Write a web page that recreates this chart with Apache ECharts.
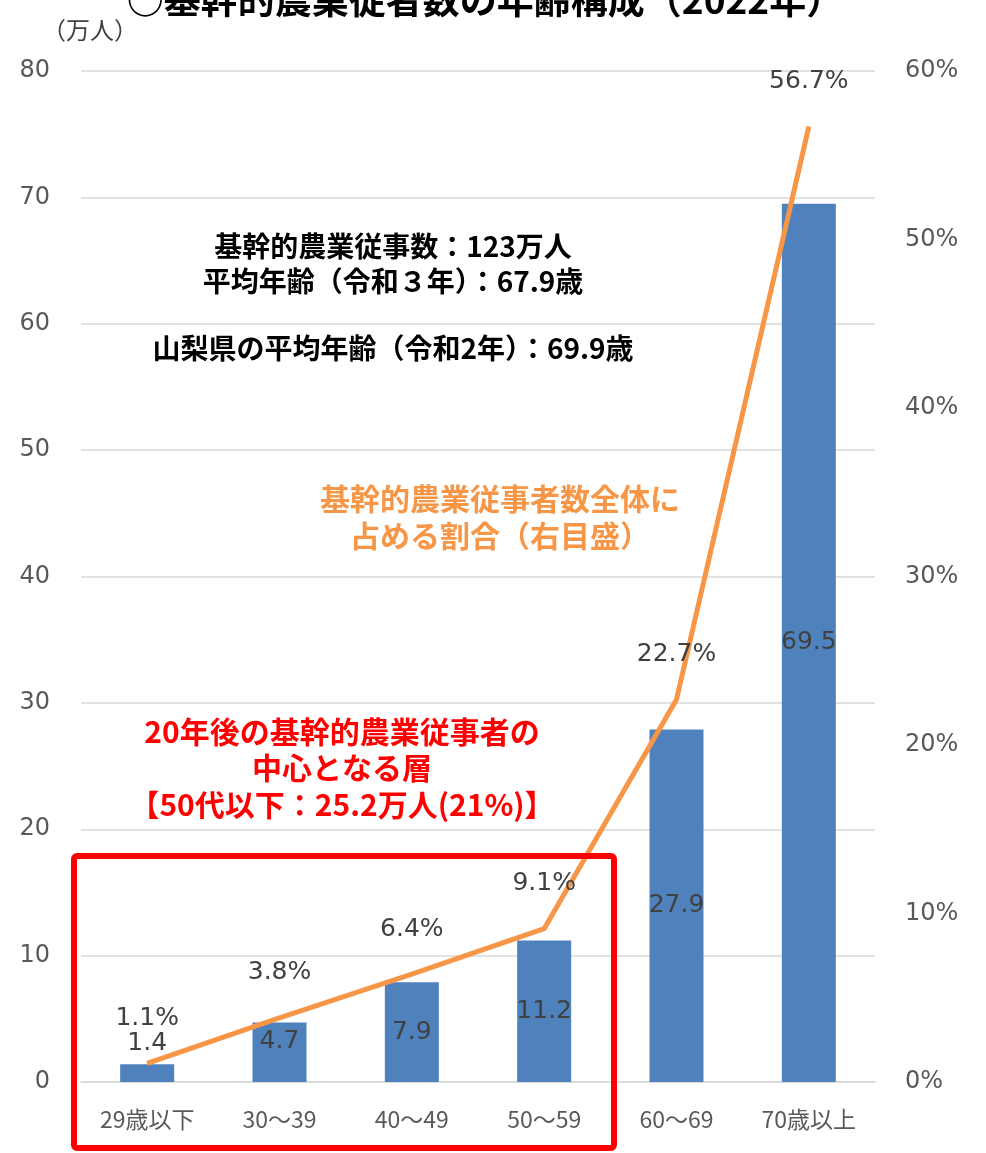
<!DOCTYPE html>
<html>
<head>
<meta charset="utf-8">
<script src="https://cdn.jsdelivr.net/npm/echarts@6/dist/echarts.min.js"></script>
<style>
html,body{margin:0;padding:0;background:#fff;}
#chart{width:986px;height:1153px;}
</style>
</head>
<body>
<div id="chart"></div>
<script>
const categories = ['29歳以下', '30～39', '40～49', '50～59', '60～69', '70歳以上'];
const workers = [1.4, 4.7, 7.9, 11.2, 27.9, 69.5];      // 万人 (left axis)
const shares = [1.1, 3.8, 6.4, 9.1, 22.7, 56.7];        // % (right axis)
const leftTicks = { min: 0, max: 80, interval: 10 };
const rightTicks = { min: 0, max: 60, interval: 10 };

const chart = echarts.init(document.getElementById('chart'));
const numFont = 'DejaVu Sans, Verdana, sans-serif';
const jpFont = '"Noto Sans CJK JP", sans-serif';

const barData = workers.map((v, i) => {
  const item = { value: v };
  if (i === 0) item.label = { position: 'top', distance: 8 };
  if (i === 1) item.label = { offset: [0, -11] };
  return item;
});

chart.setOption({
  animation: false,
  backgroundColor: '#ffffff',
  grid: { left: 81, right: 111, top: 71, bottom: 71, containLabel: false },
  xAxis: {
    type: 'category',
    data: categories,
    axisTick: { show: false },
    axisLine: { show: true, lineStyle: { color: '#d9d9d9', width: 1.5 } },
    axisLabel: { color: '#595959', fontSize: 23, fontFamily: jpFont, margin: 26 }
  },
  yAxis: [
    {
      type: 'value', min: leftTicks.min, max: leftTicks.max, interval: leftTicks.interval,
      axisLine: { show: false }, axisTick: { show: false },
      splitLine: { lineStyle: { color: '#d9d9d9', width: 1.5 } },
      axisLabel: { color: '#595959', fontSize: 24, fontFamily: numFont, margin: 31 }
    },
    {
      type: 'value', min: rightTicks.min, max: rightTicks.max, interval: rightTicks.interval,
      position: 'right',
      axisLine: { show: false }, axisTick: { show: false }, splitLine: { show: false },
      axisLabel: { color: '#595959', fontSize: 24, fontFamily: numFont, margin: 30, formatter: '{value}%' }
    }
  ],
  series: [
    {
      type: 'bar',
      data: barData,
      barWidth: 54,
      itemStyle: { color: '#4F81BD' },
      label: { show: true, position: 'inside', color: '#404040', fontSize: 25, fontFamily: numFont },
      z: 2
    },
    {
      type: 'line',
      yAxisIndex: 1,
      data: shares,
      symbol: 'circle', symbolSize: 1,
      lineStyle: { color: '#F79646', width: 5 },
      itemStyle: { color: '#F79646' },
      label: { show: true, position: 'top', distance: 32, color: '#404040', fontSize: 25, fontFamily: numFont, formatter: '{c}%' },
      z: 5
    }
  ],
  graphic: [
    { type: 'text', x: 485, y: 0, style: { text: '○基幹的農業従者数の年齢構成（2022年）', font: 'bold 37px "Noto Sans CJK JP"', fill: '#000', align: 'center', verticalAlign: 'middle' } },
    { type: 'text', x: 42, y: 30, style: { text: '（万人）', font: '24px "Noto Sans CJK JP"', fill: '#404040', verticalAlign: 'middle' } },
    { type: 'text', x: 393, y: 246, style: { text: '基幹的農業従事数：123万人', font: 'bold 28px "Noto Sans CJK JP"', fill: '#000', align: 'center', verticalAlign: 'middle' } },
    { type: 'text', x: 393, y: 281, style: { text: '平均年齢（令和３年）：67.9歳', font: 'bold 28px "Noto Sans CJK JP"', fill: '#000', align: 'center', verticalAlign: 'middle' } },
    { type: 'text', x: 393, y: 348, style: { text: '山梨県の平均年齢（令和2年）：69.9歳', font: 'bold 28px "Noto Sans CJK JP"', fill: '#000', align: 'center', verticalAlign: 'middle' } },
    { type: 'text', x: 500, y: 517, style: { text: '基幹的農業従事者数全体に\n占める割合（右目盛）', font: 'bold 30px "Noto Sans CJK JP"', lineHeight: 37, fill: '#F79646', align: 'center', verticalAlign: 'middle' } },
    { type: 'text', x: 342, y: 768, style: { text: '20年後の基幹的農業従事者の\n中心となる層\n【50代以下：25.2万人(21%)】', font: 'bold 30px "Noto Sans CJK JP"', lineHeight: 36.5, fill: '#FF0000', align: 'center', verticalAlign: 'middle' } },
    { type: 'rect', shape: { x: 74, y: 856, width: 540, height: 292, r: 3 }, style: { fill: 'none', stroke: '#FF0000', lineWidth: 6 }, z: 100 }
  ]
});
</script>
</body>
</html>
